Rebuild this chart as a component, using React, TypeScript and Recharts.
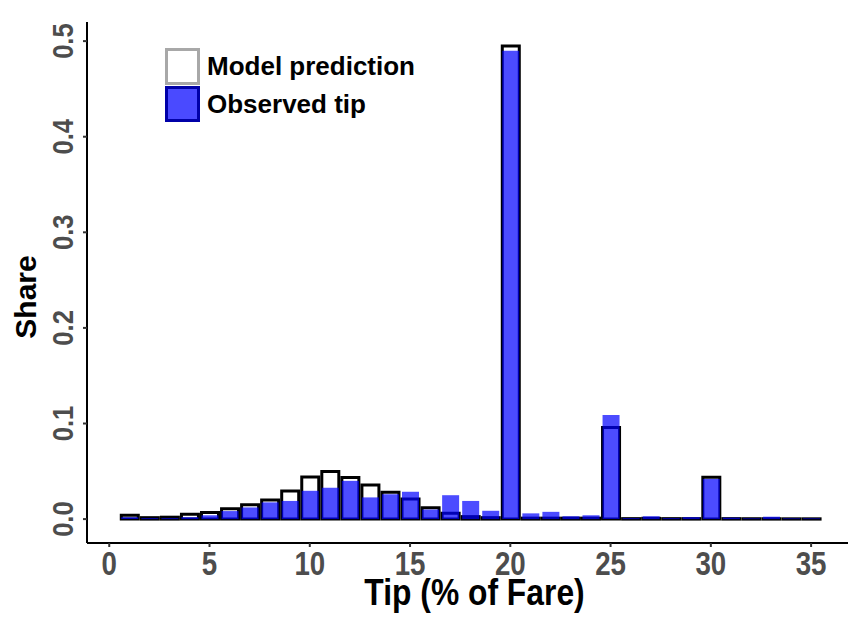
import React from 'react';
import { BarChart, Bar, XAxis, YAxis, Legend } from 'recharts';

const tips = [1,2,3,4,5,6,7,8,9,10,11,12,13,14,15,16,17,18,19,20,21,22,23,24,25,26,27,28,29,30,31,32,33,34,35];
const modelShare = [0.004,0.0015,0.002,0.005,0.007,0.0107,0.0149,0.020,0.0295,0.044,0.0497,0.0435,0.0356,0.028,0.021,0.012,0.006,0.0026,0.0015,0.495,0.001,0.001,0.001,0.001,0.0958,0.0005,0.0008,0.0005,0.0005,0.0438,0.0005,0.0004,0.0004,0.0003,0.0003];
const observedShare = [0.002,0.001,0.001,0.002,0.004,0.0084,0.0122,0.0175,0.019,0.0296,0.0328,0.040,0.0227,0.026,0.0286,0.010,0.025,0.019,0.0087,0.490,0.006,0.0076,0.003,0.004,0.109,0.001,0.003,0.001,0.002,0.042,0.0015,0.0008,0.0025,0.0008,0.0008];
const xTicks = [0,5,10,15,20,25,30,35];
const yTicks = [0,0.1,0.2,0.3,0.4,0.5];
const seriesNames = ['Model prediction', 'Observed tip'];
const xTitle = 'Tip (% of Fare)';
const yTitle = 'Share';

const data = tips.map((t, i) => ({ tip: t, model: modelShare[i], observed: observedShare[i] }));

const SANS = "'Liberation Sans', Arial, sans-serif";

const XTick = (props: any) => {
  const { x, y, payload } = props;
  return (
    <text transform={`translate(${x},${y + 26}) scale(0.84,1)`} x={0} y={0} textAnchor="middle" fill="#4D4D4D" fontFamily={SANS} fontWeight="bold" fontSize={33}>
      {payload.value}
    </text>
  );
};

const YTick = (props: any) => {
  const { x, y, payload } = props;
  return (
    <text transform={`translate(${x - 8},${y}) rotate(-90) scale(0.88,1)`} x={0} y={0} textAnchor="middle" fill="#4D4D4D" fontFamily={SANS} fontWeight="bold" fontSize={29}>
      {Number(payload.value).toFixed(1)}
    </text>
  );
};

const XTitle = (props: any) => {
  const vb = props.viewBox || {};
  const cx = vb.x + vb.width / 2 + 7;
  return (
    <text transform={`translate(${cx},605) scale(0.86,1)`} x={0} y={0} textAnchor="middle" fill="#000" fontFamily={SANS} fontWeight="bold" fontSize={37}>
      {xTitle}
    </text>
  );
};

const YTitle = () => {
  return (
    <text transform={`translate(36,297) rotate(-90)`} textAnchor="middle" fill="#000" fontFamily={SANS} fontWeight="bold" fontSize={30}>
      {yTitle}
    </text>
  );
};

const LegendBox = () => (
  <div style={{ fontFamily: SANS, fontWeight: 'bold', fontSize: 26, color: '#000' }}>
    <div style={{ display: 'flex', alignItems: 'center', height: 40 }}>
      <div style={{ width: 35, height: 37, boxSizing: 'border-box', border: '3px solid #A8A8A8', background: '#FFFFFF' }} />
      <span style={{ marginLeft: 7, lineHeight: '37px' }}>{seriesNames[0]}</span>
    </div>
    <div style={{ display: 'flex', alignItems: 'center', height: 36 }}>
      <div style={{ width: 35, height: 36, boxSizing: 'border-box', border: '3px solid #0000A8', background: '#4A4AFF' }} />
      <span style={{ marginLeft: 7, lineHeight: '36px' }}>{seriesNames[1]}</span>
    </div>
  </div>
);

export default function App() {
  return (
    <div style={{ position: 'absolute', left: 0, top: 0, width: 850, height: 623, background: '#fff' }}>
      <BarChart
        width={850}
        height={623}
        data={data}
        margin={{ top: 22, right: 2, bottom: 0, left: 0 }}
        barGap={-17}
        barSize={17}
      >
        <XAxis
          dataKey="tip"
          type="number"
          domain={[-1.11, 36.84]}
          allowDataOverflow
          ticks={xTicks}
          interval={0}
          height={80}
          tickSize={4}
          tickMargin={2}
          axisLine={{ stroke: '#000', strokeWidth: 2 }}
          tickLine={{ stroke: '#333', strokeWidth: 2 }}
          tick={<XTick />}
          label={<XTitle />}
        />
        <YAxis
          type="number"
          domain={[-0.025, 0.52]}
          allowDataOverflow
          ticks={yTicks}
          interval={0}
          width={87}
          tickSize={4}
          tickMargin={2}
          axisLine={{ stroke: '#000', strokeWidth: 2 }}
          tickLine={{ stroke: '#333', strokeWidth: 2 }}
          tick={<YTick />}
          label={<YTitle />}
        />
        <Legend
          verticalAlign="middle"
          align="center"
          layout="horizontal"
          wrapperStyle={{ left: 165, top: 46, width: 300, height: 80 }}
          content={<LegendBox />}
        />
        <Bar dataKey="model" name={seriesNames[0]} fill="#FFFFFF" stroke="#000" strokeWidth={3} isAnimationActive={false} />
        <Bar dataKey="observed" name={seriesNames[1]} fill="#0000FF" fillOpacity={0.7} stroke="none" isAnimationActive={false} />
      </BarChart>
    </div>
  );
}
